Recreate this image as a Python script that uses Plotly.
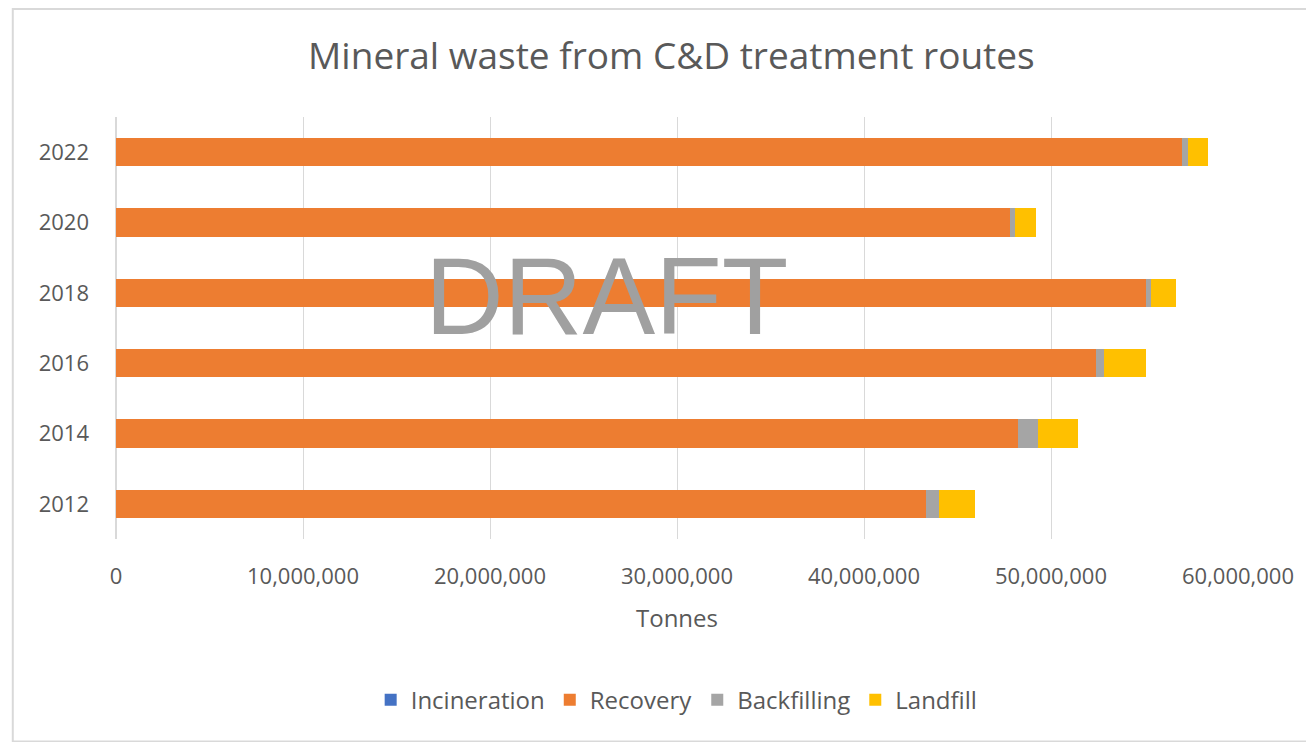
import plotly.graph_objects as go

# Data (tonnes)
years = ["2012", "2014", "2016", "2018", "2020", "2022"]
incineration = [20000, 20000, 20000, 20000, 20000, 20000]
recovery = [43300000, 48200000, 52400000, 55060000, 47800000, 57000000]
backfilling = [680000, 1070000, 430000, 290000, 270000, 300000]
landfill = [1910000, 2140000, 2230000, 1330000, 1130000, 1100000]

series = [
    ("Incineration", incineration, "#4472C4"),
    ("Recovery", recovery, "#ED7D31"),
    ("Backfilling", backfilling, "#A5A5A5"),
    ("Landfill", landfill, "#FFC000"),
]

font_family = "Open Sans, Lato, sans-serif"
text_col = "#595959"

fig = go.Figure()
for name, vals, col in series:
    fig.add_trace(go.Bar(
        y=years, x=vals, name=name, orientation="h",
        marker=dict(color=col, line=dict(width=0)),
    ))

# page body adds an 8px margin, so the figure is a bit smaller than the window
fig.update_layout(
    barmode="stack",
    bargap=0.6,
    width=1306, height=734,
    paper_bgcolor="white", plot_bgcolor="white",
    margin=dict(l=108, r=76, t=109, b=203, autoexpand=False),
    title=dict(text="Mineral waste from C&D treatment routes",
               x=0.495, xref="paper", xanchor="center",
               y=0.935, yanchor="middle",
               font=dict(family=font_family, size=37, color=text_col)),
    font=dict(family=font_family, color=text_col),
    legend=dict(orientation="h", x=0.512, xanchor="center", xref="container",
                y=0.057, yref="container", yanchor="middle",
                font=dict(size=24, color=text_col), traceorder="normal",
                itemwidth=30),
    xaxis=dict(range=[0, 60000000], dtick=10000000, tickformat=",d",
               showgrid=True, gridcolor="#d9d9d9", gridwidth=1,
               zeroline=True, zerolinecolor="#d9d9d9",
               tickfont=dict(size=22, color=text_col), ticks="",
               ticklabelstandoff=22, automargin=False,
               title=dict(text="Tonnes", font=dict(size=24, color=text_col),
                          standoff=21),
               showline=False),
    yaxis=dict(tickfont=dict(size=22, color=text_col), ticks="",
               ticklabelstandoff=26, automargin=False,
               showgrid=False, showline=False),
    showlegend=True,
)

# DRAFT watermark
fig.add_annotation(text="DRAFT", x=0.437, y=0.575, xref="paper", yref="paper",
                   showarrow=False,
                   font=dict(family="Liberation Sans, Arial, sans-serif",
                             size=109, color="#a0a0a0"))

# chart frame
fig.add_shape(type="rect", xref="paper", yref="paper",
              x0=-0.092, x1=1.08, y0=-0.48, y1=1.256,
              line=dict(color="#d9d9d9", width=2), layer="below")

fig.write_html("out.html")
